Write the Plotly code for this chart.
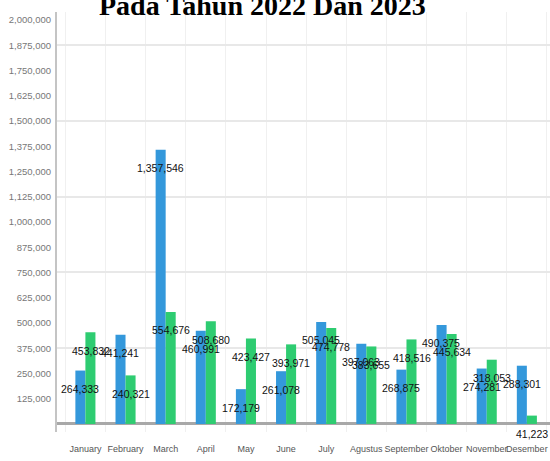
import plotly.graph_objects as go

# Monthly totals for the two years
months = ["January", "February", "March", "April", "May", "June", "July",
          "Agustus", "September", "Oktober", "November", "Desember"]
values_2022 = [264333, 441241, 1357546, 460991, 172179, 261078, 505045,
               397063, 268875, 490375, 274281, 288301]
values_2023 = [453832, 240321, 554676, 508680, 423427, 393971, 474778,
               383655, 418516, 445634, 318053, 41223]

y_tick_vals = [125000, 250000, 375000, 500000, 625000, 750000, 875000, 1000000,
               1125000, 1250000, 1375000, 1500000, 1625000, 1750000, 1875000, 2000000]
y_grid_vals = [375000, 750000, 1125000, 1500000, 1875000]

title_text = "Pada Tahun 2022 Dan 2023"

BLUE = "#3498db"
GREEN = "#2ecc71"
SANS = "Liberation Sans, Arial, sans-serif"

y_range = [-40000, 2040000]

fig = go.Figure()
fig.add_trace(go.Bar(x=months, y=values_2022, name="2022", marker_color=BLUE,
                     marker_line_width=0))
fig.add_trace(go.Bar(x=months, y=values_2023, name="2023", marker_color=GREEN,
                     marker_line_width=0))

# value labels sitting just inside the top of each bar
W, L, R = 550, 57, 0
cat_px = (W - L - R) / len(months)
bargap = 0.5
bar_px = cat_px * (1 - bargap) / 2
for series, sign in ((values_2022, -1), (values_2023, 1)):
    for m, v in zip(months, series):
        fig.add_annotation(x=m, y=v, xref="x", yref="y", text=f"{v:,}",
                           showarrow=False, xshift=sign * bar_px / 2,
                           yshift=-18.5, yanchor="middle", xanchor="center",
                           font=dict(family=SANS, size=10.5, color="#111"))

fig.add_annotation(x=(262.5 - L) / (W - L - R), y=1, xref="paper", yref="paper",
                   text=f"<b>{title_text}</b>", showarrow=False,
                   xanchor="center", yanchor="bottom", yshift=-11,
                   font=dict(family="Liberation Serif, Times New Roman, serif",
                             size=28, color="#000"))

fig.update_layout(
    width=W, height=461,
    margin=dict(l=L, r=R, t=12, b=29, autoexpand=False),
    paper_bgcolor="white", plot_bgcolor="white",
    barmode="group", bargap=bargap, bargroupgap=0,
    showlegend=False,
    xaxis=dict(type="category", tickson="boundaries", ticks="", tickangle=0,
               showgrid=True, gridcolor="#f0f0f0", gridwidth=1,
               showline=False, zeroline=False, ticklabelstandoff=10,
               tickfont=dict(family=SANS, size=9, color="#555")),
    yaxis=dict(range=y_range, tickvals=y_grid_vals, showticklabels=False,
               ticks="", showgrid=True, gridcolor="#e8e8e8", gridwidth=2,
               zeroline=True, zerolinecolor="#a8a8a8", zerolinewidth=2.5,
               showline=True, linecolor="#c4c4c4", linewidth=1.5),
    yaxis2=dict(range=y_range, overlaying="y", side="left", tickvals=y_tick_vals,
                tickformat=",d", ticks="", showgrid=False, zeroline=False,
                showline=False, ticklabelstandoff=5,
                tickfont=dict(family=SANS, size=9.5, color="#777")),
)
# invisible trace to activate the label axis
fig.add_trace(go.Scatter(x=[months[0]], y=[0], yaxis="y2", mode="markers",
                         marker=dict(opacity=0), hoverinfo="skip", showlegend=False))

fig.write_html("out.html")
